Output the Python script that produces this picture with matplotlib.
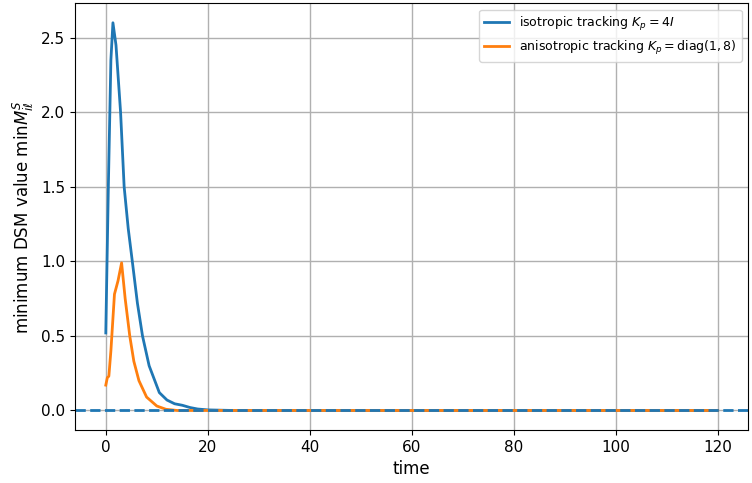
import matplotlib

matplotlib.use("Agg")
import matplotlib.pyplot as plt
import numpy as np

# blue: isotropic tracking
iso_t = [0, 0.5, 1.0, 1.4, 2.0, 2.9, 3.6, 4.4, 5.2, 6.2, 7.2, 8.5, 10.5, 12.0, 13.5, 15.0, 16.5, 18.0, 20.0, 25.0, 120.0]
iso_y = [0.52, 1.5, 2.35, 2.6, 2.45, 2.0, 1.5, 1.22, 1.0, 0.72, 0.5, 0.3, 0.12, 0.07, 0.045, 0.035, 0.02, 0.01, 0.004, 0.0, 0.0]
# orange: anisotropic tracking
aniso_t = [0, 0.3, 0.6, 1.0, 1.7, 2.4, 3.1, 3.8, 4.7, 5.5, 6.5, 8.0, 10.0, 11.8, 14.0, 120.0]
aniso_y = [0.17, 0.22, 0.23, 0.4, 0.78, 0.87, 0.99, 0.75, 0.5, 0.33, 0.2, 0.09, 0.03, 0.008, 0.0, 0.0]

fig, ax = plt.subplots(figsize=(7.52, 4.83), dpi=100)
ax.plot(iso_t, iso_y, color="C0", lw=2, label=r"isotropic tracking $K_p = 4I$")
ax.plot(aniso_t, aniso_y, color="C1", lw=2, label=r"anisotropic tracking $K_p = \mathrm{diag}(1, 8)$")
ax.axhline(0, color="C0", ls="--", lw=2)
ax.set_xlabel("time", fontsize=12)
ax.set_ylabel(r"minimum DSM value $\min M_{i\ell}^S$", fontsize=12)
ax.tick_params(labelsize=11)
ax.grid(True, color="#b0b0b0", lw=1)
ax.legend(loc="upper right", fontsize=9)
fig.subplots_adjust(left=0.1, right=0.995, top=0.993, bottom=0.11)
fig.savefig("out.png")
